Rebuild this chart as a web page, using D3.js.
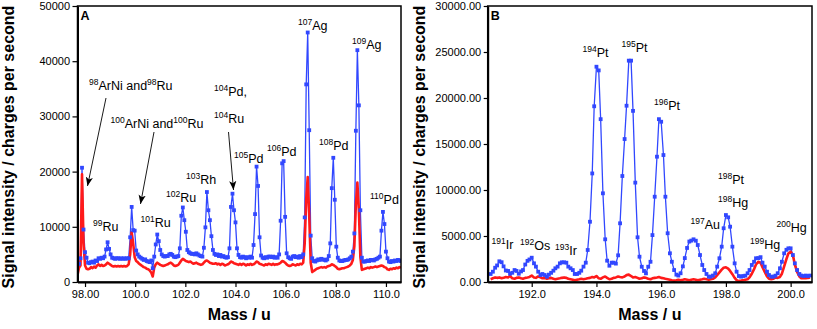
<!DOCTYPE html>
<html><head><meta charset="utf-8">
<script src="https://cdn.jsdelivr.net/npm/d3@7"></script>
<style>body{margin:0;background:#fff}svg{display:block}text{font-family:"Liberation Sans",Arial,Helvetica,sans-serif}</style>
</head><body><svg id="c" width="817" height="329"></svg>
<script>
// ---------- Panel A data (mass / u, signal in charges per second) ----------
const massA = [
97.70,97.76,97.82,97.88,97.94,98.00,98.06,98.12,98.18,98.24,
98.30,98.36,98.42,98.48,98.54,98.60,98.66,98.72,98.78,98.84,
98.90,98.96,99.02,99.08,99.14,99.20,99.26,99.32,99.38,99.44,
99.50,99.56,99.62,99.68,99.74,99.80,99.86,99.92,99.98,100.04,
100.10,100.16,100.22,100.28,100.34,100.40,100.46,100.52,100.58,100.64,
100.70,100.76,100.82,100.88,100.94,101.00,101.06,101.12,101.18,101.24,
101.30,101.36,101.42,101.48,101.54,101.60,101.66,101.72,101.78,101.84,
101.90,101.96,102.02,102.08,102.14,102.20,102.26,102.32,102.38,102.44,
102.50,102.56,102.62,102.68,102.74,102.80,102.86,102.92,102.98,103.04,
103.10,103.16,103.22,103.28,103.34,103.40,103.46,103.52,103.58,103.64,
103.70,103.76,103.82,103.88,103.94,104.00,104.06,104.12,104.18,104.24,
104.30,104.36,104.42,104.48,104.54,104.60,104.66,104.72,104.78,104.84,
104.90,104.96,105.02,105.08,105.14,105.20,105.26,105.32,105.38,105.44,
105.50,105.56,105.62,105.68,105.74,105.80,105.86,105.92,105.98,106.04,
106.10,106.16,106.22,106.28,106.34,106.40,106.46,106.52,106.58,106.64,
106.70,106.76,106.82,106.88,106.94,107.00,107.06,107.12,107.18,107.24,
107.30,107.36,107.42,107.48,107.54,107.60,107.66,107.72,107.78,107.84,
107.90,107.96,108.02,108.08,108.14,108.20,108.26,108.32,108.38,108.44,
108.50,108.56,108.62,108.68,108.74,108.80,108.86,108.92,108.98,109.04,
109.10,109.16,109.22,109.28,109.34,109.40,109.46,109.52,109.58,109.64,
109.70,109.76,109.82,109.88,109.94,110.00,110.06,110.12,110.18,110.24,
110.30,110.36,110.42,110.48,110.54,110.60];
const blueA = [
3200,3300,4300,20700,9500,5400,4400,3500,3400,3600,
3700,3500,3900,3800,4300,4200,4400,4300,4600,5900,
7200,6000,5000,4400,4300,4200,4300,4300,4200,4300,
4200,4300,4200,4300,4300,8100,13600,9400,9300,5700,
5000,4600,4400,4200,4000,4100,3800,3700,3600,3900,
2500,4600,6800,8600,7400,5800,5000,4700,4600,4700,
4700,5000,5100,4900,4600,4500,4600,4700,6100,12000,
13500,11200,9100,5800,5400,5200,5100,5100,5000,5200,
5000,4800,4700,4600,6200,9900,16300,13000,11200,8300,
5800,5100,4900,5000,4700,4900,4600,4700,4500,4400,
4500,6100,13600,16000,13000,10800,6100,4900,4500,4400,
4600,4500,4300,4500,4400,4600,4400,6700,12300,20900,
17400,8100,4800,4400,4300,4500,4400,4600,4600,4500,
4600,4400,4500,4400,5000,11100,21500,21900,11800,5200,
4500,4300,4200,4600,4700,4500,4600,4400,4700,4500,
5000,11700,35800,45200,27500,8400,4300,3800,3700,3900,
4100,4000,4200,4100,4000,3900,4100,4700,7000,17000,
22500,14900,6400,4400,3900,3800,3800,3900,4000,4000,
4100,4300,4600,5500,8800,27400,42000,32000,13000,4400,
3700,3700,3800,3900,3800,4000,4000,3900,4100,4200,
4400,4600,9300,12700,10500,5500,4300,3700,3600,3800,
3700,3900,3800,4000,3900,3800];
const redA = [
1200,2600,3000,19500,7000,3000,2400,2300,2400,2700,
2500,2800,2600,3000,3200,2900,3100,2900,3000,3200,
3500,3300,3100,2900,2800,2900,2800,2900,2800,2900,
2800,2900,2800,2900,3200,5000,9000,7000,4500,3800,
3600,3300,3100,2900,2700,2600,2400,2300,2100,1700,
1000,2600,3200,3500,3300,3100,3000,2900,3000,3100,
3200,3400,3500,3300,3000,2900,3000,3100,3500,3900,
4200,4000,3800,3700,3600,3700,3500,3300,3400,3500,
3300,3200,3100,3200,3500,3800,3900,3700,3500,3400,
3300,3300,3400,3200,3300,3100,3300,3200,3000,3100,
3200,3400,3700,3600,3400,3300,3200,3100,3300,3100,
3300,3200,3000,3200,3100,3300,3100,3200,3400,3700,
3600,3300,3200,3100,3000,3200,3100,3300,3200,3100,
3300,3100,3200,3200,3300,3500,3800,3700,3500,3200,
3000,2900,3000,3200,3100,3000,3200,3100,3300,3200,
3500,7000,15000,19000,12000,3500,1800,2000,2200,2400,
2500,2600,2700,2600,2700,2600,2800,2900,3000,3200,
3100,2900,2700,2400,2300,2400,2500,2500,2600,2700,
2800,3000,3300,4000,6500,14000,18000,13000,4500,2200,
2300,2400,2500,2600,2500,2700,2600,2700,2800,2700,
2800,2900,3000,2900,2700,2600,2300,2200,2400,2300,
2500,2400,2600,2500,2700,2600];

// ---------- Panel B data ----------
const massB = [
190.73,190.80,190.87,190.93,
191.00,191.07,191.13,191.20,191.27,191.33,191.40,191.47,191.53,191.60,191.67,191.73,191.80,191.87,191.93,
192.00,192.07,192.13,192.20,192.27,192.33,192.40,192.47,192.53,192.60,192.67,192.73,192.80,192.87,192.93,
193.00,193.07,193.13,193.20,193.27,193.33,193.40,193.47,193.53,193.60,193.67,193.73,193.80,193.87,193.93,
194.00,194.07,194.13,194.20,194.27,194.33,194.40,194.47,194.53,194.60,194.67,194.73,194.80,194.87,194.93,
195.00,195.07,195.13,195.20,195.27,195.33,195.40,195.47,195.53,195.60,195.67,195.73,195.80,195.87,195.93,
196.00,196.07,196.13,196.20,196.27,196.33,196.40,196.47,196.53,196.60,196.67,196.73,196.80,196.87,196.93,
197.00,197.07,197.13,197.20,197.27,197.33,197.40,197.47,197.53,197.60,197.67,197.73,197.80,197.87,197.93,
198.00,198.07,198.13,198.20,198.27,198.33,198.40,198.47,198.53,198.60,198.67,198.73,198.80,198.87,198.93,
199.00,199.07,199.13,199.20,199.27,199.33,199.40,199.47,199.53,199.60,199.67,199.73,199.80,199.87,199.93,
200.00,200.07,200.13,200.20,200.27,200.33,200.40,200.47,200.53,200.60];
const blueB = [
870,1120,1550,1800,
2250,2150,1700,1250,1200,900,1000,1300,1200,900,1150,1300,1900,2300,2450,
2640,2030,1670,1120,760,870,760,580,800,1000,1230,1490,1670,2030,2140,
2140,2100,1670,1490,1300,870,870,1000,1230,1670,2100,3480,6550,11800,19100,
23400,23000,17700,9640,4640,2320,1770,2100,2100,2000,2900,6380,11520,15540,19160,
24060,24060,18600,10800,4860,2750,1660,1200,940,1660,2200,5100,9270,13620,17700,
17420,13800,9270,5300,3120,2200,1300,800,700,950,1700,2600,3700,4400,4500,
4640,4490,4020,2930,1850,1300,870,580,580,700,950,1670,2580,3840,5840,
7280,7030,6010,3840,2030,1120,650,580,650,690,950,1300,1850,2200,2580,
2600,2700,2100,1670,1120,760,580,580,690,950,1490,2200,3120,3500,3660,
3660,2930,2030,1300,870,700,650,700,650,700];
const redB = [
300,400,500,450,
500,400,450,550,500,650,400,350,450,500,400,350,450,500,550,
700,500,450,600,500,400,450,350,400,450,350,300,350,400,450,
500,450,350,300,250,200,250,300,350,300,350,400,450,550,500,
650,400,350,500,600,450,300,350,450,500,600,550,500,600,750,
800,650,500,550,450,350,400,500,450,350,300,400,450,500,550,
450,400,350,300,250,200,150,200,250,200,250,300,250,200,250,
300,250,200,250,300,350,300,250,300,350,500,750,1050,1350,1550,
1600,1450,1200,850,450,200,100,150,200,250,300,500,900,1400,1900,
2200,2100,1600,1100,600,350,300,350,500,450,550,900,1700,2500,3100,
3300,2900,1900,1100,600,400,450,400,450,500];

// ---------- ticks ----------
const ticksAx = [98,100,102,104,106,108,110];
const ticksAy = [0,10000,20000,30000,40000,50000];
const ticksBx = [192,194,196,198,200];
const ticksBy = [0,5000,10000,15000,20000,25000,30000];

// ---------- annotation texts: [superscript, base] pairs ----------
const notesA = [
  [[["98","ArNi and"],["98","Ru"]], 89, 90],
  [[["100","ArNi and"],["100","Ru"]], 110.5, 128],
  [[["104","Pd,"]], 214, 96],
  [[["104","Ru"]], 214, 123],
  [[["99","Ru"]], 93, 231],
  [[["101","Ru"]], 140.5, 227],
  [[["102","Ru"]], 166, 202],
  [[["103","Rh"]], 186, 184],
  [[["105","Pd"]], 234, 163],
  [[["106","Pd"]], 267, 156],
  [[["107","Ag"]], 298, 29.5],
  [[["108","Pd"]], 319, 149.5],
  [[["109","Ag"]], 352, 48.5],
  [[["110","Pd"]], 370, 204]
];
const notesB = [
  [[["191","Ir"]], 491.5, 248.5],
  [[["192","Os"]], 520, 250],
  [[["193","Ir"]], 555, 255],
  [[["194","Pt"]], 582.5, 57],
  [[["195","Pt"]], 621.5, 52],
  [[["196","Pt"]], 654, 109.5],
  [[["197","Au"]], 690.5, 229],
  [[["198","Pt"]], 718, 183.5],
  [[["198","Hg"]], 718, 207],
  [[["199","Hg"]], 750, 248.5],
  [[["200","Hg"]], 776.5, 232]
];
const arrowsA = [[106,98,87.5,186],[154,132,140.5,204],[228.5,132,233.5,190]];

const BLUE = "#3147ff", RED = "#ff1a1a";
const svg = d3.select("#c");

const defs = svg.append("defs");
defs.append("marker").attr("id","ah").attr("viewBox","0 0 10 8")
  .attr("refX",10).attr("refY",4).attr("markerWidth",9).attr("markerHeight",7.5)
  .attr("markerUnits","userSpaceOnUse").attr("orient","auto")
  .append("path").attr("d","M0,0 L10,4 L0,8 L2.5,4 Z").attr("fill","#000");

function panel(cfg){
  const x = d3.scaleLinear().domain(cfg.xd).range([cfg.x0, cfg.x1]);
  const y = d3.scaleLinear().domain(cfg.yd).range([cfg.y1, cfg.y0]);
  const g = svg.append("g");
  const cid = "clip"+cfg.id;
  defs.append("clipPath").attr("id",cid).append("rect")
    .attr("x",cfg.x0).attr("y",cfg.y0).attr("width",cfg.x1-cfg.x0).attr("height",cfg.y1-cfg.y0);
  const line = d3.line().x(d=>x(d[0])).y(d=>y(d[1]));
  const blue = cfg.mass.map((m,i)=>[m,cfg.blue[i]]);
  const red = cfg.mass.map((m,i)=>[m,cfg.red[i]]);
  const data = g.append("g").attr("clip-path",`url(#${cid})`);
  data.append("path").datum(blue).attr("d",line).attr("fill","none")
    .attr("stroke",BLUE).attr("stroke-width",1.3).attr("stroke-linejoin","round");
  data.append("path").datum(red).attr("d",line).attr("fill","none")
    .attr("stroke",RED).attr("stroke-width",2.6).attr("stroke-linejoin","round");
  data.selectAll("rect.pt").data(blue).join("rect").attr("class","pt")
    .attr("x",d=>x(d[0])-1.9).attr("y",d=>y(d[1])-1.9).attr("width",3.8).attr("height",3.8)
    .attr("fill",BLUE);

  // frame
  g.append("rect").attr("x",cfg.x0).attr("y",cfg.y0).attr("width",cfg.x1-cfg.x0)
    .attr("height",cfg.y1-cfg.y0).attr("fill","none").attr("stroke","#000").attr("stroke-width",1.5);

  const ax = g.append("g").attr("transform",`translate(0,${cfg.y1})`)
    .call(d3.axisBottom(x).tickValues(cfg.tx).tickFormat(d3.format(".4r")).tickSize(5).tickPadding(3.5).tickSizeOuter(0));
  const ay = g.append("g").attr("transform",`translate(${cfg.x0},0)`)
    .call(d3.axisLeft(y).tickValues(cfg.ty).tickFormat(cfg.yfmt).tickSize(cfg.tsy).tickPadding(2.5).tickSizeOuter(0));
  [ax,ay].forEach(a=>{
    a.attr("font-family",null).attr("font-size",null);
    a.select(".domain").attr("stroke","#000").attr("stroke-width",2);
    a.selectAll(".tick line").attr("stroke","#000").attr("stroke-width",1.2);
    a.selectAll(".tick text").attr("fill","#000").style("font-size","11px")
      .style("font-family","'Liberation Sans', Arial, sans-serif");
  });

  g.append("text").attr("x",cfg.x0+3).attr("y",cfg.y0+14).text(cfg.id)
    .style("font-weight","bold").style("font-size","12.5px");
  g.append("text").attr("x",(cfg.x0+cfg.x1)/2).attr("y",320).attr("text-anchor","middle")
    .text("Mass / u").style("font-weight","bold").style("font-size","16px");
  g.append("text").attr("transform",`translate(${cfg.ytx},${(cfg.y0+cfg.y1)/2+3}) rotate(-90)`)
    .attr("text-anchor","middle").text("Signal intensity / charges per second")
    .style("font-weight","bold").style("font-size","16px");

  cfg.notes.forEach(([parts,tx,ty])=>{
    const t = g.append("text").attr("x",tx).attr("y",ty).style("font-size","12.5px");
    parts.forEach(([sup,base])=>{
      t.append("tspan").attr("dy",-5).style("font-size","8.5px").text(sup);
      t.append("tspan").attr("dy",5).style("font-size","12.5px").text(base);
    });
  });
  return {x,y,g};
}

const A = panel({id:"A", x0:77.5, x1:401, y0:6, y1:282, xd:[97.70,110.60], yd:[0,50000],
  mass:massA, blue:blueA, red:redA, tx:ticksAx, ty:ticksAy, yfmt:d3.format("d"), tsy:5,
  ytx:13.5, notes:notesA});
const B = panel({id:"B", x0:487.7, x1:812, y0:6, y1:282, xd:[190.64,200.66], yd:[0,30000],
  mass:massB, blue:blueB, red:redB, tx:ticksBx, ty:ticksBy, yfmt:d3.format(".2f"), tsy:4,
  ytx:425, notes:notesB});

arrowsA.forEach(([x1,y1,x2,y2])=>{
  A.g.append("line").attr("x1",x1).attr("y1",y1).attr("x2",x2).attr("y2",y2)
    .attr("stroke","#000").attr("stroke-width",0.9).attr("marker-end","url(#ah)");
});
</script></body></html>
